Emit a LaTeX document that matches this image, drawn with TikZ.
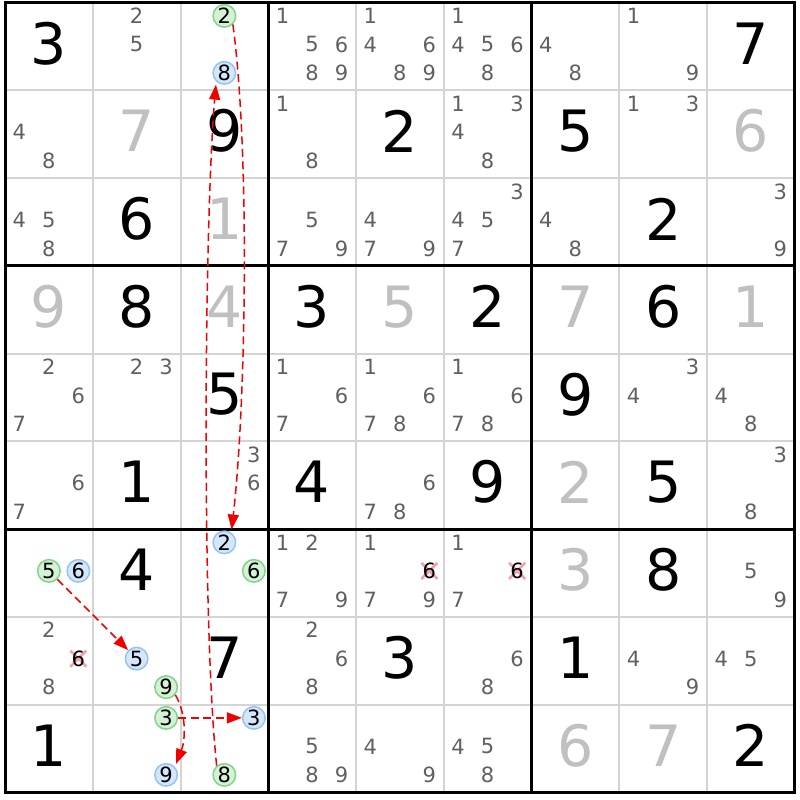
\documentclass[tikz,border=0pt]{standalone}
\usepackage{fontspec}
\setmainfont{DejaVu Sans}
\usetikzlibrary{arrows.meta}
\definecolor{candgrey}{RGB}{96,96,96}
\definecolor{solvedgrey}{RGB}{192,192,192}
\definecolor{gridgrey}{RGB}{212,212,212}
\definecolor{gfill}{RGB}{214,242,214}
\definecolor{gline}{RGB}{128,212,140}
\definecolor{bfill}{RGB}{214,230,250}
\definecolor{bline}{RGB}{150,196,242}
\definecolor{xpink}{RGB}{246,160,170}
\definecolor{arrred}{RGB}{240,0,0}
\newcommand\candnode[5]{%
  \pgfmathsetmacro\candX{5+87.75*(#3-0.5)+29.5*(mod(#4-1,3)-1)}%
  \pgfmathsetmacro\candY{2.5+87.75*(#2-0.5)-2+28.5*(int((#4-1)/3)-1)}%
  \node[#5] (#1) at (\candX,\candY) {#4};}
\newcommand\crossnode[4]{%
  \pgfmathsetmacro\candX{5+87.75*(#3-0.5)+29.5*(mod(#4-1,3)-1)}%
  \pgfmathsetmacro\candY{2.5+87.75*(#2-0.5)-2+28.5*(int((#4-1)/3)-1)}%
  \draw[xline] (\candX-8,\candY-8) -- (\candX+8,\candY+8) (\candX-8,\candY+8) -- (\candX+8,\candY-8);
  \node[xcand] (#1) at (\candX,\candY) {#4};}
\begin{document}
\begin{tikzpicture}[x=1pt,y=-1pt,
  bigdigit/.style={font=\fontsize{57}{57}\selectfont, inner sep=0pt},
  cnd/.style={font=\fontsize{21}{21}\selectfont, text=candgrey, inner sep=0pt},
  gcirc/.style={circle, draw=gline, fill=gfill, line width=1.5pt, minimum size=22.5pt, inner sep=0pt, font=\fontsize{21}{21}\selectfont},
  bcirc/.style={circle, draw=bline, fill=bfill, line width=1.5pt, minimum size=22.5pt, inner sep=0pt, font=\fontsize{21}{21}\selectfont},
  xcand/.style={font=\fontsize{21}{21}\selectfont, text=black, inner sep=0pt},
  xline/.style={draw=xpink, line width=2.8pt},
  thinline/.style={draw=gridgrey, line width=2pt},
  thickline/.style={draw=black, line width=3pt},
  arr/.style={draw=arrred, line width=1.5pt, dash pattern=on 8pt off 4.5pt, -{Triangle[length=15pt,width=11pt]}}
]
\useasboundingbox (0,0) rectangle (800,800);
\fill[white] (0,0) rectangle (800,800);
% grid
\foreach \i in {1,2,4,5,7,8} {
  \draw[thinline] ({5+87.75*\i},2.5) -- ({5+87.75*\i},792.25);
  \draw[thinline] (5,{2.5+87.75*\i}) -- (794.75,{2.5+87.75*\i});
}
\foreach \i in {0,3,6,9} {
  \draw[thickline] ({5+87.75*\i},1) -- ({5+87.75*\i},793.75);
  \draw[thickline] (3.5,{2.5+87.75*\i}) -- (796.25,{2.5+87.75*\i});
}
% big digits
\foreach \r/\c/\d/\col in {1/1/3/black,1/9/7/black,2/2/7/solvedgrey,2/3/9/black,2/5/2/black,2/7/5/black,2/9/6/solvedgrey,
  3/2/6/black,3/3/1/solvedgrey,3/8/2/black,
  4/1/9/solvedgrey,4/2/8/black,4/3/4/solvedgrey,4/4/3/black,4/5/5/solvedgrey,4/6/2/black,4/7/7/solvedgrey,4/8/6/black,4/9/1/solvedgrey,
  5/3/5/black,5/7/9/black,6/2/1/black,6/4/4/black,6/6/9/black,6/7/2/solvedgrey,6/8/5/black,
  7/2/4/black,7/7/3/solvedgrey,7/8/8/black,8/3/7/black,8/5/3/black,8/7/1/black,
  9/1/1/black,9/7/6/solvedgrey,9/8/7/solvedgrey,9/9/2/black}
  \node[bigdigit, text=\col] (g\r\c) at ({5+87.75*(\c-0.5)},{2.5+87.75*(\r-0.5)-3}) {\d};
% candidates
\foreach \r/\c/\L in {1/2/{2,5},1/4/{1,5,6,8,9},1/5/{1,4,6,8,9},1/6/{1,4,5,6,8},1/7/{4,8},1/8/{1,9},
  2/1/{4,8},2/4/{1,8},2/6/{1,3,4,8},2/8/{1,3},
  3/1/{4,5,8},3/4/{5,7,9},3/5/{4,7,9},3/6/{3,4,5,7},3/7/{4,8},3/9/{3,9},
  5/1/{2,6,7},5/2/{2,3},5/4/{1,6,7},5/5/{1,6,7,8},5/6/{1,6,7,8},5/8/{3,4},5/9/{4,8},
  6/1/{6,7},6/3/{3,6},6/5/{6,7,8},6/9/{3,8},
  7/4/{1,2,7,9},7/5/{1,7,9},7/6/{1,7},7/9/{5,9},
  8/1/{2,8},8/4/{2,6,8},8/6/{6,8},8/8/{4,9},8/9/{4,5},
  9/4/{5,8,9},9/5/{4,9},9/6/{4,5,8}}
  { \foreach \d in \L { \candnode{c\r\c\d}{\r}{\c}{\d}{cnd} } }
% eliminated candidates
\crossnode{xa}{7}{5}{6}
\crossnode{xb}{7}{6}{6}
\crossnode{xc}{8}{1}{6}
% highlighted candidates
\candnode{ga}{1}{3}{2}{gcirc}
\candnode{bb}{1}{3}{8}{bcirc}
\candnode{gc}{7}{1}{5}{gcirc}
\candnode{bd}{7}{1}{6}{bcirc}
\candnode{be}{7}{3}{2}{bcirc}
\candnode{gf}{7}{3}{6}{gcirc}
\candnode{bg}{8}{2}{5}{bcirc}
\candnode{gh}{8}{2}{9}{gcirc}
\candnode{gi}{9}{2}{3}{gcirc}
\candnode{bj}{9}{2}{9}{bcirc}
\candnode{bk}{9}{3}{3}{bcirc}
\candnode{gl}{9}{3}{8}{gcirc}
% links
\draw[arr, shorten >=3pt] (ga.-45) .. controls +(17,125) and +(15,-130) .. (be.55);
\draw[arr, shorten >=3pt] (gl.130) .. controls +(-15,-140) and +(-12,140) .. (bb.-133);
\draw[arr] (gc.-45) -- (bg.135);
\draw[arr] (gi.east) -- (bk.west);
\draw[arr, shorten >=3pt] (gh.-40) .. controls +(12,20) and +(10,-25) .. (bj.43);
\end{tikzpicture}
\end{document}
